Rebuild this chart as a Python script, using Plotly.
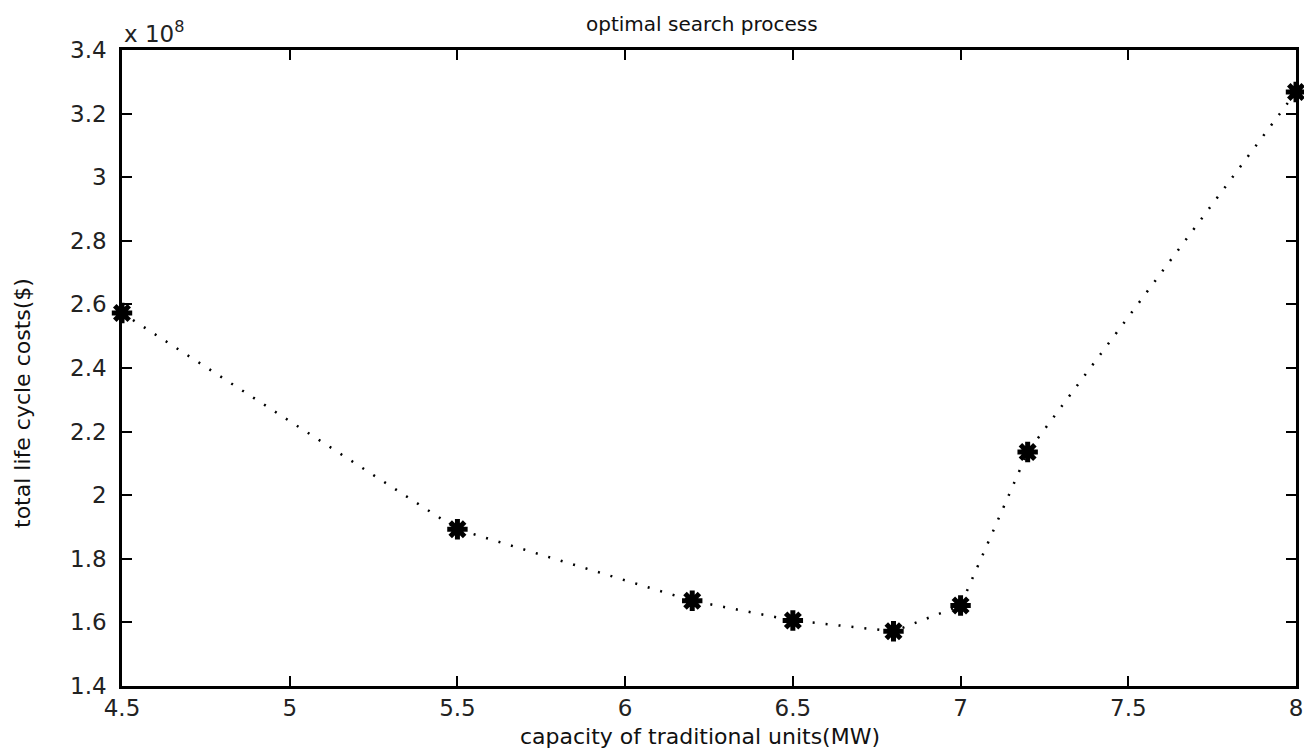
import plotly.graph_objects as go

capacity = [4.5, 5.5, 6.2, 6.5, 6.8, 7.0, 7.2, 8.0]
cost_e8 = [2.573, 1.893, 1.668, 1.606, 1.572, 1.653, 2.136, 3.268]

x_ticks = [4.5, 5, 5.5, 6, 6.5, 7, 7.5, 8]
x_tick_text = ["4.5", "5", "5.5", "6", "6.5", "7", "7.5", "8"]
y_ticks = [1.4, 1.6, 1.8, 2.0, 2.2, 2.4, 2.6, 2.8, 3.0, 3.2, 3.4]
y_tick_text = ["1.4", "1.6", "1.8", "2", "2.2", "2.4", "2.6", "2.8", "3", "3.2", "3.4"]

font_main = "DejaVu Sans, Verdana, sans-serif"

fig = go.Figure()
fig.add_trace(go.Scatter(
    x=capacity, y=cost_e8, mode="lines+markers",
    line=dict(color="black", width=2.5, dash="2px,11px"),
    marker=dict(symbol="asterisk-open", size=17, color="black",
                line=dict(color="black", width=5)),
    showlegend=False, cliponaxis=False,
))

axis_common = dict(
    showgrid=False, zeroline=False, showline=True, linecolor="black", linewidth=2.5,
    mirror="ticks", ticks="inside", ticklen=10, tickwidth=2, tickcolor="black",
    tickfont=dict(family=font_main, size=23, color="#222"),
    automargin=False,
)

fig.update_xaxes(range=[4.5, 8], tickvals=x_ticks, ticktext=x_tick_text,
                 ticklabelstandoff=0, **axis_common)
fig.update_yaxes(range=[1.4, 3.4], tickvals=y_ticks, ticktext=y_tick_text,
                 ticklabelstandoff=8, **axis_common)

fig.update_layout(
    width=1304, height=748,
    margin=dict(l=122, r=8, t=50, b=62),
    plot_bgcolor="white", paper_bgcolor="white",
    annotations=[
        dict(text="optimal search process", xref="paper", yref="paper",
             x=(702 - 122) / (1296 - 122), y=1.0, yshift=26, xanchor="center", yanchor="middle",
             showarrow=False, font=dict(family=font_main, size=20, color="#111")),
        dict(text="x 10<sup>8</sup>", xref="paper", yref="paper", x=0.0, y=1.0,
             xanchor="left", yanchor="bottom", showarrow=False, yshift=1, xshift=0,
             font=dict(family=font_main, size=23, color="#222")),
        dict(text="capacity of traditional units(MW)", xref="paper", yref="paper",
             x=(700 - 122) / (1296 - 122), y=0.0, yshift=-50, xanchor="center", yanchor="middle",
             showarrow=False, font=dict(family=font_main, size=22, color="#111")),
        dict(text="total life cycle costs($)", xref="paper", yref="paper",
             x=0.0, xshift=-100, y=(686 - 403) / (686 - 50), xanchor="center", yanchor="middle",
             textangle=-90, showarrow=False,
             font=dict(family=font_main, size=22, color="#111")),
    ],
)

fig.write_html("out.html",
               config={"displayModeBar": False},
               post_script="document.body.style.margin='0';document.body.style.overflow='hidden';")
